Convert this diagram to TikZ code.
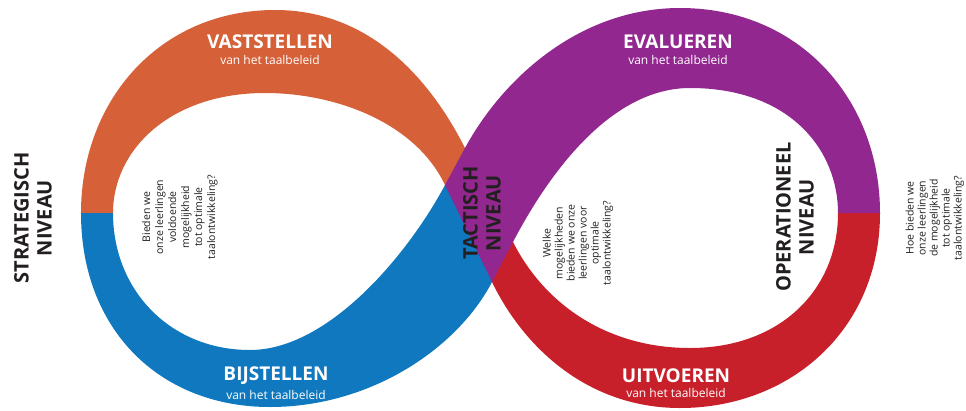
\documentclass[tikz,border=0pt]{standalone}
\usepackage{fontspec}
\setmainfont{Open Sans}
\usetikzlibrary{positioning}
\definecolor{oranje}{RGB}{214,96,55}
\definecolor{blauw}{RGB}{16,120,190}
\definecolor{paars}{RGB}{146,39,143}
\definecolor{rood}{RGB}{200,32,42}
\definecolor{tekst}{RGB}{35,31,32}

\begin{document}
\begin{tikzpicture}[
  x=1pt,y=-1pt,
  title/.style={font=\bfseries\fontsize{19}{19}\selectfont,text=white,inner sep=0pt},
  sub/.style={font=\fontsize{12}{12}\selectfont,text=white,inner sep=0pt},
  level/.style={font=\bfseries\fontsize{20}{23}\selectfont,text=tekst,rotate=90,align=center,inner sep=0pt},
  question/.style={font=\fontsize{10.5}{#1}\selectfont,text=tekst,rotate=90,align=center,inner sep=0pt},
  question/.default=12,
]
\useasboundingbox (0,0) rectangle (966,410);

\coordinate (lo) at (81,213);
\coordinate (li) at (113,213);
\coordinate (ro) at (880,213);
\coordinate (ri) at (838,213);
\coordinate (hl) at (445,185);
\coordinate (hr) at (513,242);
\coordinate (nt) at (465,148);
\coordinate (nb) at (492,282);
\coordinate (mid) at (479,214);

\fill[oranje] (lo) -- (li) .. controls (113,150) and (170,93) .. (265,93)
  .. controls (335,93) and (415,122) .. (hl) -- (mid) -- (nt)
  .. controls (430,79) and (370,10) .. (275,10)
  .. controls (160,10) and (81,100) .. (lo) -- cycle;
\fill[blauw] (li) .. controls (113,290) and (170,350) .. (250,350)
  .. controls (330,350) and (410,251) .. (hl) -- (mid) -- (nb)
  .. controls (457,349) and (370,407) .. (270,407)
  .. controls (160,407) and (81,330) .. (lo) -- cycle;
\fill[rood] (ro) .. controls (880,330) and (790,408) .. (680,408)
  .. controls (590,408) and (525,350) .. (nb) -- (mid) -- (hr)
  .. controls (546,307) and (610,348) .. (690,348)
  .. controls (780,348) and (838,290) .. (ri) -- cycle;
\fill[paars] (hl) -- (nt) .. controls (503,78) and (580,8) .. (680,8)
  .. controls (800,8) and (880,100) .. (ro) -- (ri)
  .. controls (838,150) and (790,88) .. (690,88)
  .. controls (610,88) and (548,175) .. (hr) -- (nb) -- cycle;

\node (vast) [title] at (270,42) {VASTSTELLEN};
\node (vastsub) [sub,below=6pt of vast] {van het taalbeleid};
\node (eval) [title] at (678,42) {EVALUEREN};
\node (evalsub) [sub,below=6pt of eval] {van het taalbeleid};
\node (bijst) [title] at (276,376) {BIJSTELLEN};
\node (bijstsub) [sub,below=5pt of bijst] {van het taalbeleid};
\node (uitv) [title] at (676,376) {UITVOEREN};
\node (uitvsub) [sub,below=5pt of uitv] {van het taalbeleid};

\node (strat) [level] at (33,218) {STRATEGISCH\\NIVEAU};
\node (tact) [level] at (482,213) {TACTISCH\\NIVEAU};
\node (oper) [level] at (795,217) {OPERATIONEEL\\NIVEAU};

\node (vraagl) [question=13] at (180,217) {Bieden we\\onze leerlingen\\voldoende\\mogelijkheid\\tot optimale\\taalontwikkeling?};
\node (vraagm) [question] at (578,243) {Welke\\mogelijkheden\\bieden we onze\\leerlingen voor\\optimale\\taalontwikkeling?};
\node (vraagr) [question] at (935,218) {Hoe bieden we\\onze leerlingen\\de mogelijkheid\\tot optimale\\taalontwikkeling?};
\end{tikzpicture}
\end{document}
